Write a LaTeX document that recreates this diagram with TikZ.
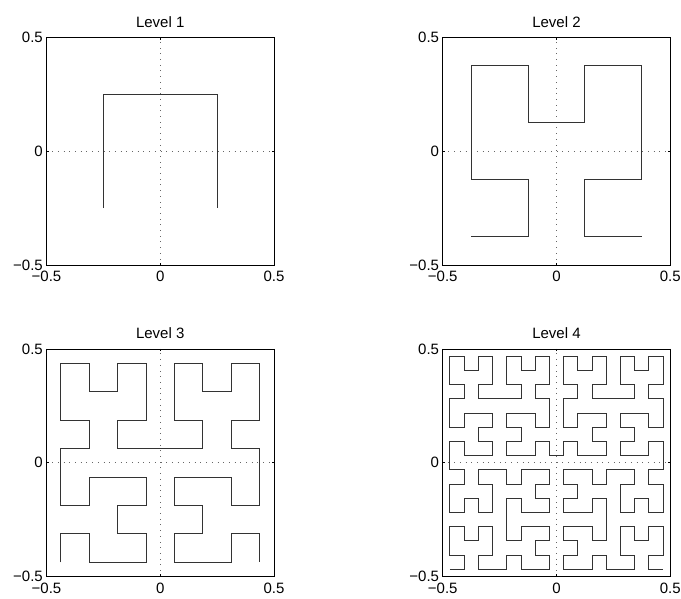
\documentclass[tikz,border=0pt]{standalone}
\usepackage{fontspec}
\setmainfont{Liberation Sans}
\usetikzlibrary{lindenmayersystems}

\pgfdeclarelindenmayersystem{Hilbert curve}{
  \rule{L -> +RF-LFL-FR+}
  \rule{R -> -LF+RFR+FL-}}

\begin{document}
\begin{tikzpicture}[
  axisbox/.style={draw, line width=0.9pt},
  gridline/.style={black!60, line width=0.6pt, dash pattern=on 0.7pt off 5pt},
  tickmark/.style={line width=0.6pt},
  ticklabel/.style={font=\fontsize{15}{18}\selectfont, inner sep=0pt},
  paneltitle/.style={font=\fontsize{15}{18}\selectfont, inner sep=0pt, anchor=base, yshift=10.4pt},
  curve/.style={line width=0.9pt, black!80},
]
  \useasboundingbox (0,0) rectangle (681pt,599pt);
  % one panel per level
  \foreach \lvl/\cx/\cy in {1/160.25/447.75, 2/556.5/447.75, 3/160.25/136.25, 4/556.5/136.25}{
    \begin{scope}[shift={(\cx pt,\cy pt)}, x=227.5pt, y=227.5pt]
      \pgfmathsetmacro\st{-0.5+0.5^(\lvl+1)}
      \pgfmathsetmacro\stp{227.5/2^\lvl}
      \draw[gridline] (0,-0.5) -- (0,0.5);
      \draw[gridline] (-0.5,0) -- (0.5,0);
      \begin{scope}[shift={(\st,\st)}]
        \draw[curve, lindenmayer system={Hilbert curve, axiom=L, order=\lvl, step=\stp pt, angle=90}]
          (0,0) lindenmayer system;
      \end{scope}
      \draw[axisbox] (-0.5,-0.5) rectangle (0.5,0.5);
      \foreach \t in {-0.5,0,0.5}{
        \draw[tickmark] (\t,-0.5) -- ++(0,2.3pt);
        \draw[tickmark] (\t,0.5) -- ++(0,-2.3pt);
        \draw[tickmark] (-0.5,\t) -- ++(2.3pt,0);
        \draw[tickmark] (0.5,\t) -- ++(-2.3pt,0);
      }
      \node[ticklabel, anchor=east, xshift=-3.5pt] (ytop\lvl) at (-0.5,0.5) {0.5};
      \node[ticklabel, anchor=east, xshift=-3.5pt] (ymid\lvl) at (-0.5,0) {0};
      \node[ticklabel, anchor=east, xshift=-3.5pt] (ybot\lvl) at (-0.5,-0.5) {−0.5};
      \node[ticklabel, anchor=base, yshift=-17pt] (xleft\lvl) at (-0.5,-0.5) {−0.5};
      \node[ticklabel, anchor=base, yshift=-17pt] (xmid\lvl) at (0,-0.5) {0};
      \node[ticklabel, anchor=base, yshift=-17pt] (xright\lvl) at (0.5,-0.5) {0.5};
      \node[paneltitle] (title\lvl) at (0,0.5) {Level \lvl};
    \end{scope}
  }
\end{tikzpicture}
\end{document}
